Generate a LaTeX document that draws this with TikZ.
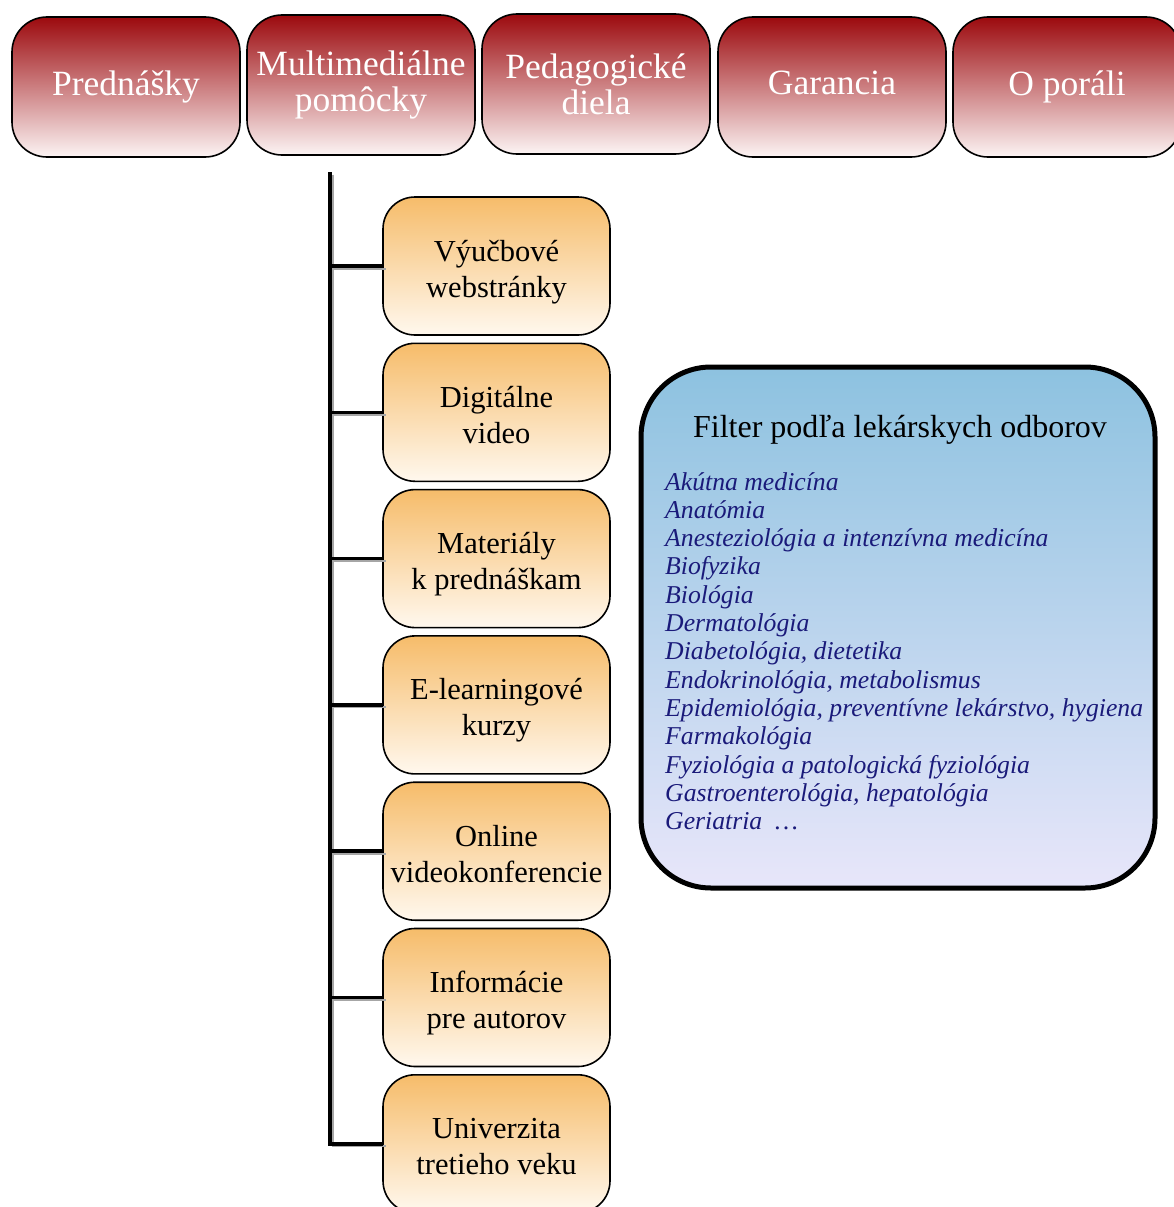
\documentclass[tikz,border=0pt]{standalone}
\usepackage{fontspec}
\setmainfont{Liberation Serif}
\usetikzlibrary{positioning}

\definecolor{menutop}{HTML}{9C0A0E}
\definecolor{menubot}{HTML}{FCF4F4}
\definecolor{itemtop}{HTML}{F6BC6A}
\definecolor{itembot}{HTML}{FFF8EE}
\definecolor{filtertop}{HTML}{8DC2E0}
\definecolor{filterbot}{HTML}{E8E6FA}
\definecolor{odborblue}{HTML}{1A1A7A}

\tikzset{
  menubox/.style={draw=black, line width=1.6pt, rounded corners=35pt,
    minimum width=228pt, minimum height=140pt, inner sep=0pt,
    top color=menutop, bottom color=menubot, text=white, align=center,
    font=\fontsize{35.5}{36}\selectfont},
  itembox/.style={draw=black, line width=1.6pt, rounded corners=32pt,
    minimum width=227pt, minimum height=138pt, inner sep=0pt, outer sep=0pt,
    top color=itemtop, bottom color=itembot, align=center,
    text height=62pt, text depth=0pt,
    font=\fontsize{30.5}{36}\selectfont},
  filterbox/.style={draw=black, line width=5pt, rounded corners=70pt,
    minimum width=514pt, minimum height=521pt, inner sep=0pt,
    top color=filtertop, bottom color=filterbot},
  odborlist/.style={text=odborblue, inner sep=0pt,
    font=\fontsize{25.7}{28}\selectfont\itshape},
  spine/.style={line width=3.5pt,
    preaction={draw, gray!70, line width=2pt,
      transform canvas={shift={(2.5pt,-2.5pt)}}}}
}

\begin{document}
\begin{tikzpicture}[x=1pt,y=-1pt]
  \useasboundingbox (0,0) rectangle (1173,1207);
  % top menu
  \node[menubox] (prednasky) at (126,87) {Prednášky};
  \node[menubox] (multimedia) at (361,85) {Multimediálne\\pomôcky};
  \node[menubox] (pedagog) at (596,84) {Pedagogické\\diela};
  \node[menubox, text depth=8pt] (garancia) at (832,87) {Garancia};
  \node[menubox] (oportali) at (1067,87) {O poráli};

  % submenu of Multimedialne pomocky
  \node[itembox] (webstranky) at (496.5,266) {Výučbové\\webstránky};
  \node[itembox, below=8.3pt of webstranky] (video) {Digitálne\\video};
  \node[itembox, below=8.3pt of video] (materialy) {Materiály\\k prednáškam};
  \node[itembox, below=8.3pt of materialy] (kurzy) {E-learningové\\kurzy};
  \node[itembox, below=8.3pt of kurzy] (konferencie) {Online\\videokonferencie};
  \node[itembox, below=8.3pt of konferencie] (autori) {Informácie\\pre autorov};
  \node[itembox, below=8.3pt of autori] (utv) {Univerzita\\tretieho veku};

  \coordinate (spinetop) at (330,172);
  \draw[spine] (spinetop) |- (utv.west);
  \foreach \n in {webstranky,video,materialy,kurzy,konferencie,autori}
    \draw[spine] (spinetop |- \n.west) -- (\n.west);

  % filter box
  \node[filterbox] (filter) at (898,627.5) {};
  \node[font=\fontsize{32}{36}\selectfont, anchor=base] (filtertitle) at (900,437) {Filter podľa lekárskych odborov};
  \foreach \odbor [count=\i] in {Akútna medicína, Anatómia,
      Anesteziológia a intenzívna medicína, Biofyzika, Biológia,
      Dermatológia, {Diabetológia, dietetika}, {Endokrinológia, metabolismus},
      {Epidemiológia, preventívne lekárstvo, hygiena}, Farmakológia,
      Fyziológia a patologická fyziológia, {Gastroenterológia, hepatológia},
      {Geriatria\ \ \ldots}}
    \node[odborlist, anchor=base west] (odbor\i) at (665,461.7+28.3*\i) {\odbor};
\end{tikzpicture}
\end{document}
